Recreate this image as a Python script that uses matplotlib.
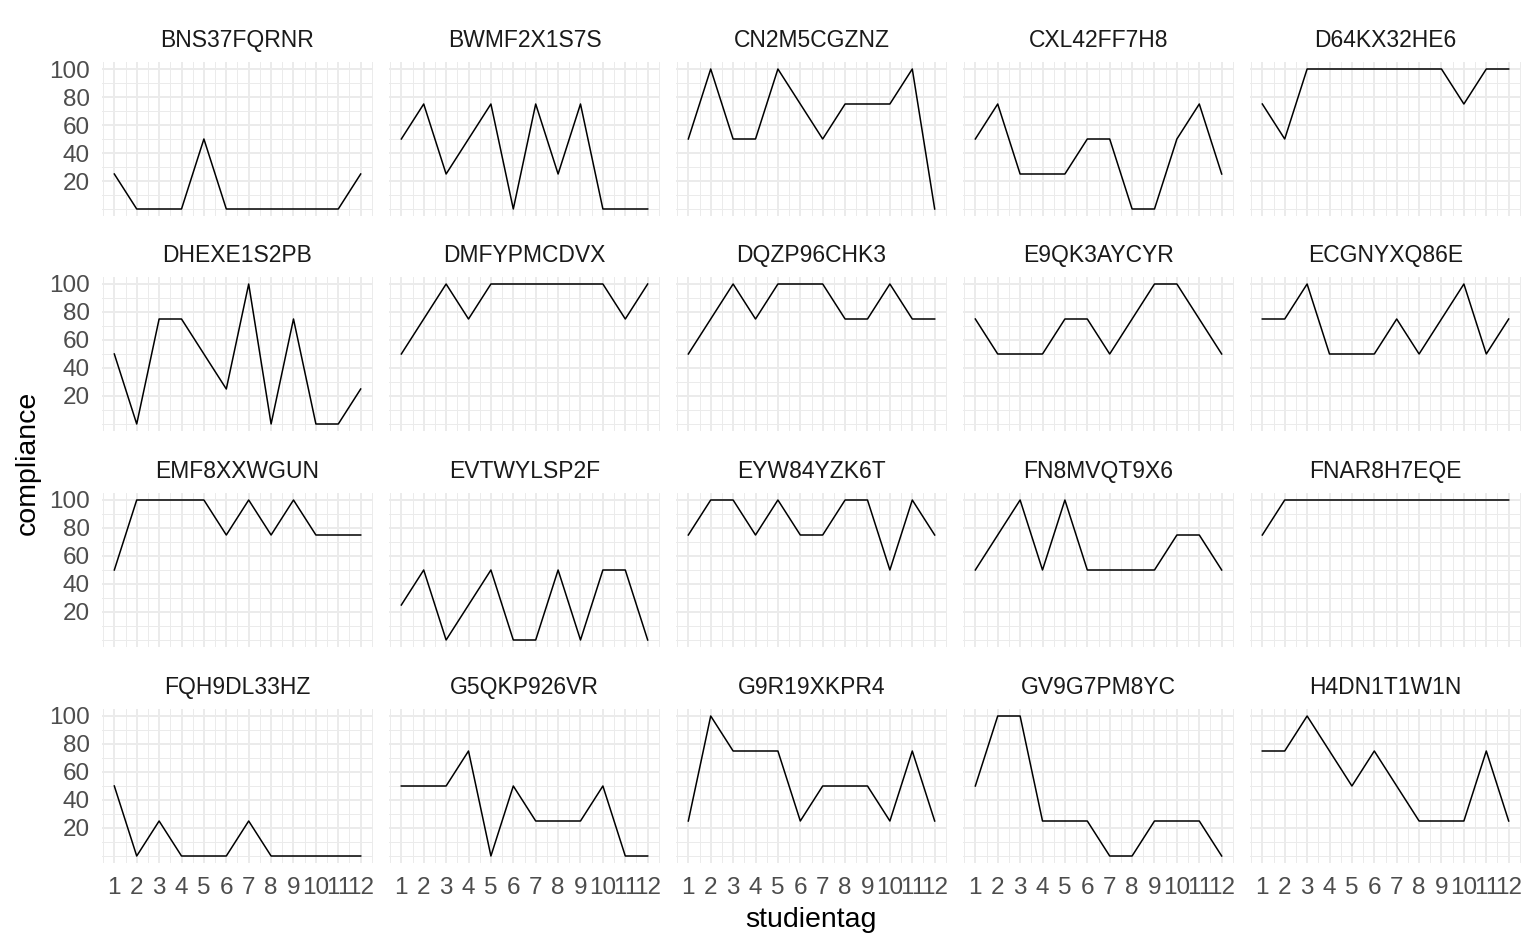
import numpy as np
import matplotlib
matplotlib.use("Agg")
import matplotlib.pyplot as plt

plt.rcParams['font.family'] = ['Liberation Sans', 'DejaVu Sans']

# study days and compliance per participant
days = list(range(1, 13))
ids = ["BNS37FQRNR", "BWMF2X1S7S", "CN2M5CGZNZ", "CXL42FF7H8", "D64KX32HE6",
       "DHEXE1S2PB", "DMFYPMCDVX", "DQZP96CHK3", "E9QK3AYCYR", "ECGNYXQ86E",
       "EMF8XXWGUN", "EVTWYLSP2F", "EYW84YZK6T", "FN8MVQT9X6", "FNAR8H7EQE",
       "FQH9DL33HZ", "G5QKP926VR", "G9R19XKPR4", "GV9G7PM8YC", "H4DN1T1W1N"]

bns37fqrnr = [25, 0, 0, 0, 50, 0, 0, 0, 0, 0, 0, 25]
bwmf2x1s7s = [50, 75, 25, 50, 75, 0, 75, 25, 75, 0, 0, 0]
cn2m5cgznz = [50, 100, 50, 50, 100, 75, 50, 75, 75, 75, 100, 0]
cxl42ff7h8 = [50, 75, 25, 25, 25, 50, 50, 0, 0, 50, 75, 25]
d64kx32he6 = [75, 50, 100, 100, 100, 100, 100, 100, 100, 75, 100, 100]
dhexe1s2pb = [50, 0, 75, 75, 50, 25, 100, 0, 75, 0, 0, 25]
dmfypmcdvx = [50, 75, 100, 75, 100, 100, 100, 100, 100, 100, 75, 100]
dqzp96chk3 = [50, 75, 100, 75, 100, 100, 100, 75, 75, 100, 75, 75]
e9qk3aycyr = [75, 50, 50, 50, 75, 75, 50, 75, 100, 100, 75, 50]
ecgnyxq86e = [75, 75, 100, 50, 50, 50, 75, 50, 75, 100, 50, 75]
emf8xxwgun = [50, 100, 100, 100, 100, 75, 100, 75, 100, 75, 75, 75]
evtwylsp2f = [25, 50, 0, 25, 50, 0, 0, 50, 0, 50, 50, 0]
eyw84yzk6t = [75, 100, 100, 75, 100, 75, 75, 100, 100, 50, 100, 75]
fn8mvqt9x6 = [50, 75, 100, 50, 100, 50, 50, 50, 50, 75, 75, 50]
fnar8h7eqe = [75, 100, 100, 100, 100, 100, 100, 100, 100, 100, 100, 100]
fqh9dl33hz = [50, 0, 25, 0, 0, 0, 25, 0, 0, 0, 0, 0]
g5qkp926vr = [50, 50, 50, 75, 0, 50, 25, 25, 25, 50, 0, 0]
g9r19xkpr4 = [25, 100, 75, 75, 75, 25, 50, 50, 50, 25, 75, 25]
gv9g7pm8yc = [50, 100, 100, 25, 25, 25, 0, 0, 25, 25, 25, 0]
h4dn1t1w1n = [75, 75, 100, 75, 50, 75, 50, 25, 25, 25, 75, 25]

series = [bns37fqrnr, bwmf2x1s7s, cn2m5cgznz, cxl42ff7h8, d64kx32he6,
          dhexe1s2pb, dmfypmcdvx, dqzp96chk3, e9qk3aycyr, ecgnyxq86e,
          emf8xxwgun, evtwylsp2f, eyw84yzk6t, fn8mvqt9x6, fnar8h7eqe,
          fqh9dl33hz, g5qkp926vr, g9r19xkpr4, gv9g7pm8yc, h4dn1t1w1n]

y_breaks = [20, 40, 60, 80, 100]

W, H = 1536, 949
fig = plt.figure(figsize=(W / 100, H / 100), dpi=100)

lefts = [102, 389, 676, 963, 1250]
tops = [62, 277, 493, 709]
pw, ph = 271, 154

for i, (name, vals) in enumerate(zip(ids, series)):
    r, c = divmod(i, 5)
    ax = fig.add_axes([lefts[c] / W, 1 - (tops[r] + ph) / H, pw / W, ph / H])
    ax.set_xlim(0.45, 12.55)
    ax.set_ylim(-5, 105)
    # grid like theme_minimal
    for x in np.arange(0.5, 12.6, 1.0):
        ax.axvline(x, color="#EBEBEB", lw=0.7, zorder=0)
    for y in range(0, 101, 10):
        ax.axhline(y, color="#EBEBEB", lw=0.7, zorder=0)
    for x in days:
        ax.axvline(x, color="#EBEBEB", lw=1.4, zorder=0)
    for y in y_breaks:
        ax.axhline(y, color="#EBEBEB", lw=1.4, zorder=0)
    ax.plot(days, vals, color="black", lw=1.1, zorder=2)
    for s in ax.spines.values():
        s.set_visible(False)
    ax.set_xticks(days)
    ax.set_yticks(y_breaks)
    ax.tick_params(length=0, labelsize=17.5, labelcolor="#4D4D4D")
    ax.tick_params(axis="y", pad=9)
    ax.tick_params(axis="x", pad=10)
    if c != 0:
        ax.set_yticklabels([])
    if r != 3:
        ax.set_xticklabels([])
    ax.set_title(name, fontsize=16.5, color="#1A1A1A", pad=11)

fig.text(811 / W, 1 - 920 / H, "studientag", ha="center", va="center",
         fontsize=20.5, color="black")
fig.text(28 / W, 1 - 463 / H, "compliance", ha="center", va="center",
         rotation=90, fontsize=20.5, color="black")

fig.savefig("out.png", dpi=100, facecolor="white")
